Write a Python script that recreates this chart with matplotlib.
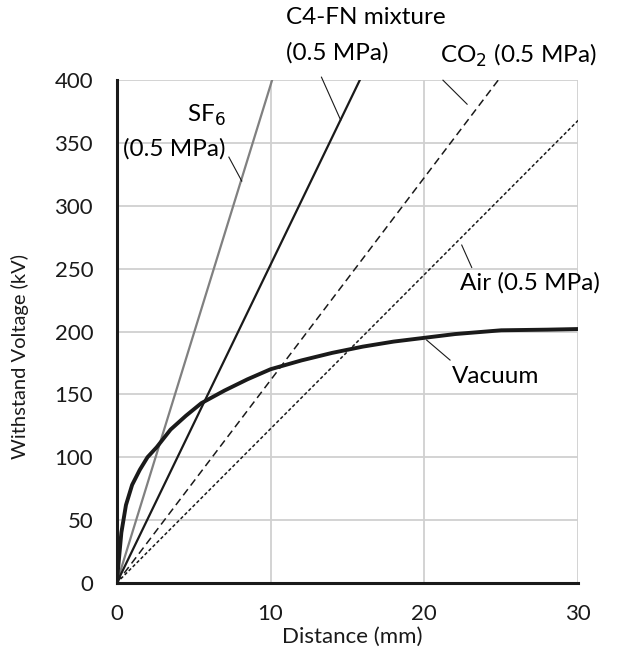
import matplotlib
matplotlib.use('Agg')
import matplotlib.pyplot as plt

plt.rcParams['font.family'] = ['Lato', 'DejaVu Sans']

# vacuum breakdown curve
vac_x = [0, 0.3, 0.6, 1.0, 1.5, 2.0, 2.6, 3.5, 4.5, 5.5, 7, 8.5, 10, 12, 14, 16, 18, 20, 22, 25, 28, 30]
vac_y = [0, 40, 62, 78, 90, 100, 108, 122, 133, 143, 153, 162, 170, 177, 183, 188, 192, 195, 198, 201, 201.5, 202]

# gas lines: start and end points
sf6_x, sf6_y = [0, 10.1], [0, 400]
c4fn_x, c4fn_y = [0, 15.8], [0, 400]
co2_x, co2_y = [0, 24.8], [0, 400]
air_x, air_y = [0, 30], [0, 368]

fig = plt.figure(figsize=(6.21, 6.52), dpi=100)
ax = fig.add_axes([0.188, 0.106, 0.743, 0.771])

ax.plot(sf6_x, sf6_y, color='#808080', lw=1.6)
ax.plot(c4fn_x, c4fn_y, color='#1a1a1a', lw=1.6)
ax.plot(co2_x, co2_y, color='#1a1a1a', lw=1.1, dashes=(5, 3))
ax.plot(air_x, air_y, color='#1a1a1a', lw=1.1, dashes=(2.2, 1.5))
ax.plot(vac_x, vac_y, color='#1a1a1a', lw=2.8)

ax.set_xlim(0, 30)
ax.set_ylim(0, 400)
ax.set_xticks([0, 10, 20, 30])
ax.set_yticks(range(0, 401, 50))
ax.grid(True, color='#d0d0d0', lw=1.3)
ax.set_axisbelow(True)
for s in ['top', 'right']:
    ax.spines[s].set_visible(False)
for s in ['left', 'bottom']:
    ax.spines[s].set_linewidth(2.2)
    ax.spines[s].set_color('#1a1a1a')
ax.tick_params(length=0, labelsize=16, colors='#1a1a1a')
ax.tick_params(axis='y', pad=17)
ax.tick_params(axis='x', pad=15)
ax.set_xlabel('Distance (mm)', fontsize=16, color='#1a1a1a')
ax.set_ylabel('Withstand Voltage (kV)', fontsize=14.5, color='#1a1a1a')
ax.xaxis.set_label_coords(0.51, -0.088)
ax.yaxis.set_label_coords(-0.19, 0.45)

fs = 17.5
# labels and leader lines
ax.text(11.0, 450, 'C4-FN mixture', fontsize=fs, va='center', ha='left', clip_on=False)
ax.text(11.0, 421.5, '(0.5 MPa)', fontsize=fs, va='center', ha='left', clip_on=False)
ax.plot([13.31, 14.56], [402.4, 368.2], color='#1a1a1a', lw=0.8, clip_on=False)

ax.text(21.0, 420, 'CO$_2$ (0.5 MPa)', fontsize=fs, va='center', ha='left', clip_on=False)
ax.plot([21.21, 22.78], [400, 380.9], color='#1a1a1a', lw=0.8, clip_on=False)

ax.text(5.8, 372, 'SF$_6$', fontsize=fs, va='center', ha='center')
ax.text(3.77, 345, '(0.5 MPa)', fontsize=fs, va='center', ha='center')
ax.plot([7.29, 8.13], [338.8, 319.7], color='#1a1a1a', lw=0.8)

ax.text(22.3, 239, 'Air (0.5 MPa)', fontsize=fs, va='center', ha='left', clip_on=False)
ax.plot([22.43, 23.08], [268.8, 251], color='#1a1a1a', lw=0.8)

ax.text(21.8, 164, 'Vacuum', fontsize=fs, va='center', ha='left')
ax.plot([20.15, 21.67], [193.2, 177.3], color='#1a1a1a', lw=0.8)

fig.savefig('out.png', dpi=100)
